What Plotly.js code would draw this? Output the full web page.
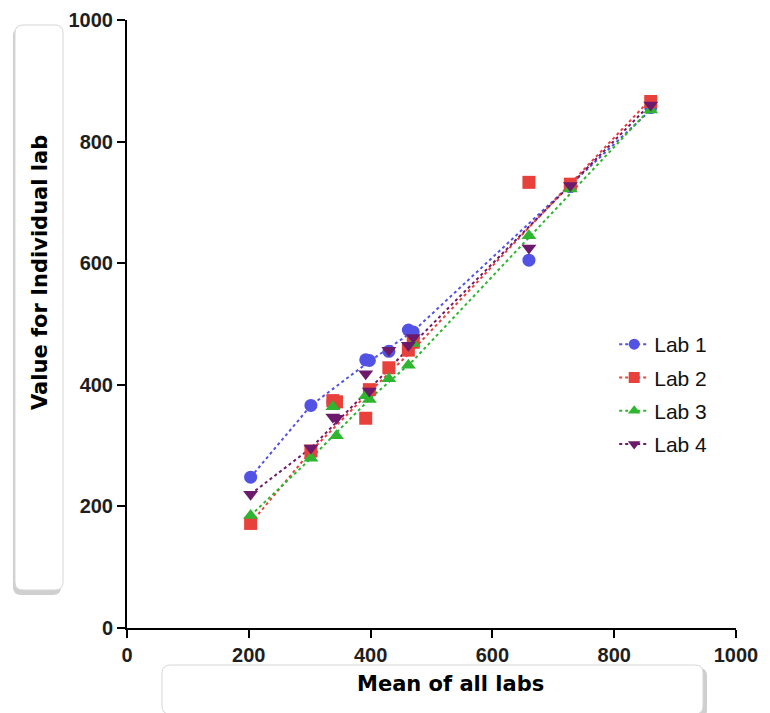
<!DOCTYPE html>
<html><head><meta charset="utf-8">
<script src="https://cdn.plot.ly/plotly-3.0.1.min.js"></script>
<style>html,body{margin:0;padding:0;background:#fff}#chart{width:770px;height:713px}</style>
</head><body><div id="chart"></div>
<script>
// ---- data ----
const labNames = ['Lab 1', 'Lab 2', 'Lab 3', 'Lab 4'];
const meanOfAllLabs = [203, 302, 338, 344, 392, 398, 430, 462, 470, 660, 728, 860];
const lab1 = [248, 366, 372, 370, 441, 440, 455, 490, 487, 605, 726, 856];
const lab2 = [172, 291, 374, 372, 345, 392, 428, 457, 470, 733, 730, 866];
const lab3 = [185, 279, 364, 316, 382, 376, 410, 432, 468, 645, 722, 852];
const lab4 = [220, 296, 347, 345, 418, 390, 457, 465, 478, 625, 728, 860];
// fitted (dotted) lines, read at a few x positions
const fitX = [203, 302, 400, 470, 860];
const fitLab1 = [248, 366, 440, 488, 852];
const fitLab2 = [172, 291, 390, 458, 870];
const fitLab3 = [185, 279, 378, 440, 855];
const fitLab4 = [220, 296, 395, 468, 862];
const xTicks = [0, 200, 400, 600, 800, 1000];
const yTicks = [0, 200, 400, 600, 800, 1000];
const xTitle = 'Mean of all labs';
const yTitle = 'Value for Individual lab';

// ---- styles ----
const colors = ['#5252e4', '#e8413b', '#2fb52f', '#6c1a6c'];
const symbols = ['circle', 'square', 'triangle-up', 'triangle-down'];
const sizes = [13, 13, 13, 13];
const labValues = [lab1, lab2, lab3, lab4];
const fitValues = [fitLab1, fitLab2, fitLab3, fitLab4];

const W = 770, H = 713, M = {l: 127, r: 34, t: 20, b: 85};
const pw = W - M.l - M.r, ph = H - M.t - M.b;
const px = v => ((v - M.l) / pw).toFixed(5);
const py = v => ((H - M.b - v) / ph).toFixed(5);
function roundRect(x0, y0, x1, y1, r) {
  return `M${px(x0 + r)},${py(y0)} L${px(x1 - r)},${py(y0)} Q${px(x1)},${py(y0)} ${px(x1)},${py(y0 + r)} ` +
    `L${px(x1)},${py(y1 - r)} Q${px(x1)},${py(y1)} ${px(x1 - r)},${py(y1)} L${px(x0 + r)},${py(y1)} ` +
    `Q${px(x0)},${py(y1)} ${px(x0)},${py(y1 - r)} L${px(x0)},${py(y0 + r)} Q${px(x0)},${py(y0)} ${px(x0 + r)},${py(y0)} Z`;
}

const traces = [];
labNames.forEach((n, i) => {
  traces.push({x: fitX, y: fitValues[i], mode: 'lines', showlegend: false, hoverinfo: 'skip',
    line: {color: colors[i], width: 2, dash: 'dot'}});
});
labNames.forEach((n, i) => {
  traces.push({x: meanOfAllLabs, y: labValues[i], mode: 'markers', name: n, showlegend: false,
    marker: {color: colors[i], symbol: symbols[i], size: sizes[i]}});
});
labNames.forEach((n, i) => {
  traces.push({x: [null], y: [null], mode: 'lines+markers', name: n, legendgroup: 'g' + i,
    line: {color: colors[i], width: 2, dash: 'dot'},
    marker: {color: colors[i], symbol: symbols[i], size: 11}});
});

const tickFont = {family: 'Liberation Sans, Arial, sans-serif', size: 20, color: '#1e1e1e', weight: 'bold'};
const axisCommon = {
  range: [0, 1000], showgrid: false, zeroline: false, showline: true, linecolor: '#000', linewidth: 2,
  ticks: 'outside', ticklen: 8, tickwidth: 2, tickcolor: '#000', tickfont: tickFont, fixedrange: true
};

const layout = {
  width: W, height: H, margin: M, paper_bgcolor: '#fff', plot_bgcolor: 'rgba(0,0,0,0)',
  xaxis: Object.assign({}, axisCommon, {tickvals: xTicks, ticktext: xTicks.map(String)}),
  yaxis: Object.assign({}, axisCommon, {tickvals: yTicks, ticktext: yTicks.map(String)}),
  showlegend: true,
  legend: {x: 0.80, y: 0.50, xanchor: 'left', yanchor: 'top', bgcolor: 'rgba(0,0,0,0)',
    font: {family: 'Liberation Sans, Arial, sans-serif', size: 21, color: '#111'},
    traceorder: 'grouped', tracegroupgap: 3, itemwidth: 30},
  shapes: [
    {type: 'path', xref: 'paper', yref: 'paper', layer: 'below', path: roundRect(13, 28, 61, 595, 8), fillcolor: '#cfcfcf', line: {width: 0}},
    {type: 'path', xref: 'paper', yref: 'paper', layer: 'below', path: roundRect(15, 25, 63, 590, 8), fillcolor: '#fff', line: {color: '#d6d6d6', width: 1}},
    {type: 'path', xref: 'paper', yref: 'paper', layer: 'below', path: roundRect(165, 668, 707, 718, 8), fillcolor: '#cfcfcf', line: {width: 0}},
    {type: 'path', xref: 'paper', yref: 'paper', layer: 'below', path: roundRect(162, 665, 703, 714, 8), fillcolor: '#fff', line: {color: '#d6d6d6', width: 1}}
  ],
  annotations: [
    {text: xTitle, xref: 'paper', yref: 'paper', x: Number(px(450)), y: Number(py(684)), showarrow: false,
      xanchor: 'center', yanchor: 'middle', font: {family: 'DejaVu Sans, sans-serif', size: 21, color: '#000', weight: 'bold'}},
    {text: yTitle, xref: 'paper', yref: 'paper', x: Number(px(40)), y: Number(py(272)), showarrow: false, textangle: -90,
      xanchor: 'center', yanchor: 'middle', font: {family: 'DejaVu Sans, sans-serif', size: 21, color: '#000', weight: 'bold'}}
  ]
};

Plotly.newPlot('chart', traces, layout, {displayModeBar: false, staticPlot: true});
</script>
</body></html>
